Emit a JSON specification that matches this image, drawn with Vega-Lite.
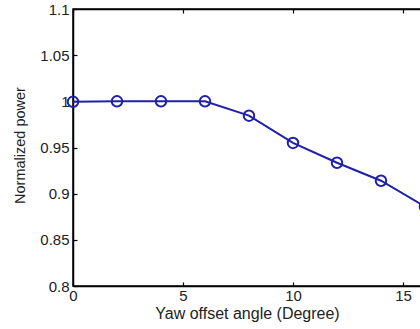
{
  "$schema": "https://vega.github.io/schema/vega-lite/v6.json",
  "width": 440,
  "height": 277,
  "autosize": "none",
  "padding": {"left": 73, "top": 9, "right": 0, "bottom": 43},
  "background": "white",
  "config": {
    "font": "Liberation Sans",
    "view": {"stroke": "black", "strokeWidth": 1.5},
    "axis": {
      "domainColor": "black",
      "domainWidth": 1.5,
      "tickColor": "black",
      "tickWidth": 1.2,
      "tickSize": -4,
      "grid": false,
      "labelFont": "Liberation Sans",
      "labelFontSize": 15,
      "labelColor": "#222222",
      "labelOverlap": false,
      "titleFont": "Liberation Sans",
      "titleFontSize": 16,
      "titleFontWeight": "normal",
      "titleColor": "#222222"
    }
  },
  "data": {
    "values": [
      {"angle": 0, "power": 0.9995},
      {"angle": 2, "power": 1.0},
      {"angle": 4, "power": 1.0},
      {"angle": 6, "power": 1.0},
      {"angle": 8, "power": 0.9845},
      {"angle": 10, "power": 0.955},
      {"angle": 12, "power": 0.9335},
      {"angle": 14, "power": 0.914},
      {"angle": 16, "power": 0.886}
    ]
  },
  "layer": [
    {
      "mark": {"type": "line", "color": "#2020aa", "strokeWidth": 2},
      "encoding": {
        "x": {
          "field": "angle",
          "type": "quantitative",
          "scale": {"domain": [0, 20], "nice": false},
          "axis": {
            "orient": "bottom",
            "values": [0, 5, 10, 15, 20],
            "labelPadding": 6,
            "labelFlush": false,
            "title": "Yaw offset angle (Degree)",
            "titleX": 174,
            "titleY": 32,
            "titleAlign": "center",
            "titleBaseline": "alphabetic",
            "titleAnchor": null
          }
        },
        "y": {
          "field": "power",
          "type": "quantitative",
          "scale": {"domain": [0.8, 1.1], "nice": false, "zero": false},
          "axis": {
            "values": [0.8, 0.85, 0.9, 0.95, 1.0, 1.05, 1.1],
            "format": "~g",
            "labelPadding": 8,
            "labelFlush": false,
            "title": "Normalized power",
            "titleFontSize": 14.5,
            "titleX": -53,
            "titleY": 136,
            "titleAlign": "center",
            "titleAngle": -90,
            "titleBaseline": "middle",
            "titleAnchor": null
          }
        }
      }
    },
    {
      "mark": {"type": "point", "shape": "circle", "filled": false, "size": 110, "strokeWidth": 2, "color": "#2020aa", "opacity": 1},
      "encoding": {
        "x": {
          "field": "angle",
          "type": "quantitative",
          "axis": {
            "orient": "top",
            "values": [0, 5, 10, 15, 20],
            "labels": false,
            "title": null
          }
        },
        "y": {"field": "power", "type": "quantitative"}
      }
    }
  ],
  "resolve": {"axis": {"x": "independent"}}
}
